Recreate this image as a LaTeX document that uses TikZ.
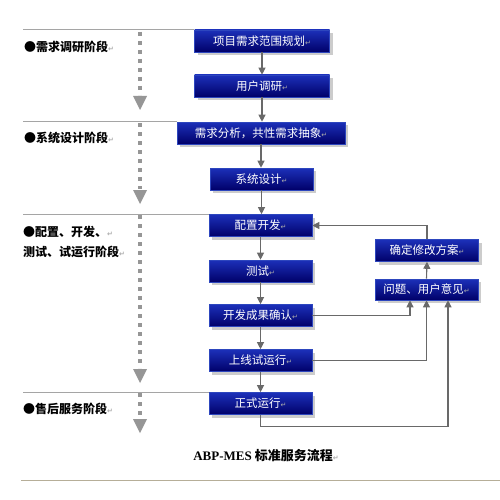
\documentclass[tikz,border=0pt]{standalone}
\usepackage{fontspec}
\setmainfont{Noto Sans CJK SC}
\newfontfamily\symfont{DejaVu Sans}
\newfontfamily\latinserif{Liberation Serif}
\usetikzlibrary{arrows.meta,shadows}
\definecolor{boxhi}{RGB}{28,48,185}
\definecolor{boxlo}{RGB}{0,0,105}
\definecolor{boxrim}{RGB}{45,70,190}
\definecolor{lnkgray}{RGB}{105,105,105}
\definecolor{sepgray}{RGB}{165,165,165}
\definecolor{dotgray}{RGB}{150,150,150}
\definecolor{rulebrown}{RGB}{182,174,152}
\newcommand{\pmk}{{\symfont\fontsize{7}{8}\selectfont\color{gray!65}↵}}
\tikzset{
  stg/.style={rectangle,draw=boxrim,line width=.6pt,top color=boxhi,bottom color=boxlo,
    text=white,font=\fontsize{11.5}{13}\selectfont,minimum width=103pt,minimum height=22pt,
    inner sep=0pt,drop shadow={shadow xshift=3pt,shadow yshift=-3pt,fill=black!20,opacity=1}},
  flw/.style={draw=lnkgray,line width=1.1pt,-{Triangle[length=7pt,width=7pt]}},
  fbk/.style={draw=lnkgray,line width=1.1pt,-{Triangle[length=7pt,width=7pt]}},
  sep/.style={draw=sepgray,line width=1pt},
  dots/.style={draw=dotgray,line width=4pt,dash pattern=on 4pt off 5pt},
  phs/.style={font=\bfseries\fontsize{12}{20}\selectfont,anchor=west,align=left,inner sep=0pt},
}
\begin{document}
\begin{tikzpicture}[x=1pt,y=-1pt]
\useasboundingbox (0,0) rectangle (500,500);
% main column
\node[stg,minimum width=135pt] (b1) at (262,41) {项目需求范围规划\pmk};
\node[stg,minimum width=135pt] (b2) at (262,86) {用户调研\pmk};
\node[stg,minimum width=168pt] (b3) at (261,133) {需求分析，共性需求抽象\pmk};
\node[stg] (b4) at (261.5,179) {系统设计\pmk};
\node[stg] (b5) at (260.5,225.5) {配置开发\pmk};
\node[stg] (b6) at (260.5,271) {测试\pmk};
\node[stg] (b7) at (260.5,315.5) {开发成果确认\pmk};
\node[stg] (b8) at (260.5,360.5) {上线试运行\pmk};
\node[stg] (b9) at (260.5,403.5) {正式运行\pmk};
% feedback column
\node[stg] (b10) at (427,250.5) {确定修改方案\pmk};
\node[stg,minimum height=21pt] (b11) at (426.5,289.5) {问题、用户意见\pmk};
\foreach \a/\b in {b1/b2,b2/b3,b3/b4,b4/b5,b5/b6,b6/b7,b7/b8,b8/b9}
  \draw[flw] (\a.south) -- (\a.south |- \b.north);
\draw[fbk] (b7.east) -| ([xshift=-16.5pt]b11.south);
\draw[fbk] (b8.east) -| (b11.south);
\draw[fbk] (b9.south) -- ++(0,12) -| ([xshift=21.5pt]b11.south);
\draw[fbk] (b11.north) -- (b10.south);
\draw[fbk] (b10.north) |- (b5.east);
% phases
\coordinate (s0) at (23,0);
\draw[sep] (s0 |- b1.north west) -- (b1.north west);
\draw[sep] (s0 |- b3.north west) -- (b3.north west);
\draw[sep] (s0 |- b5.north west) -- (b5.north west);
\draw[sep] (s0 |- b9.north west) -- (b9.north west);
\foreach \ya/\yb in {32/110, 123/204, 215/383, 393/433}{
  \draw[dots] (140,\ya) -- (140,\yb-15);
  \fill[dotgray] (133,\yb-14) -- (147,\yb-14) -- (140,\yb) -- cycle;
}
\node[phs] (ph1) at (24,47) {●需求调研阶段\pmk};
\node[phs] (ph2) at (24,138) {●系统设计阶段\pmk};
\node[phs] (ph3) at (23,242) {●配置、开发、\pmk\\测试、试运行阶段\pmk};
\node[phs] (ph4) at (23,409) {●售后服务阶段\pmk};
% caption
\node[font=\bfseries\fontsize{13}{15}\selectfont] (ttl) at (266,456) {{\latinserif ABP-MES} 标准服务流程\pmk};
\draw[draw=rulebrown,line width=1pt] (21,480) -- (500,480);
\end{tikzpicture}
\end{document}
